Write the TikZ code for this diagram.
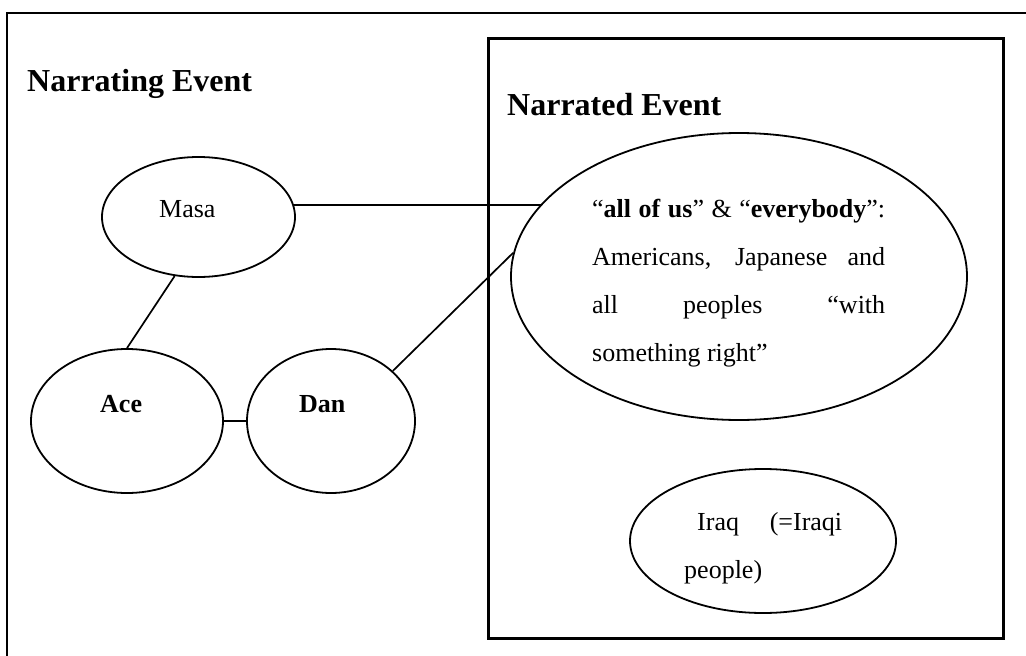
\documentclass[tikz,border=0pt]{standalone}
\usepackage{fontspec}
\setmainfont{Liberation Serif}
\usetikzlibrary{shapes.geometric}
\begin{document}
\begin{tikzpicture}[x=1pt,y=-1pt,
  bubble/.style={ellipse,draw,line width=1.8pt,inner sep=0pt},
  frame/.style={draw,line width=2.5pt},
  link/.style={line width=1.7pt},
  body/.style={font=\fontsize{26}{48}\selectfont,inner sep=0pt,anchor=base west},
  bodybold/.style={body,font=\fontsize{26}{48}\selectfont\bfseries},
  heading/.style={font=\fontsize{32}{36}\selectfont\bfseries,inner sep=0pt,anchor=base west}]
\useasboundingbox (0,0) rectangle (1026,656);
\clip (0,0) rectangle (1026,656);

% outer frame, running past the right and bottom edges
\coordinate (outerBL) at (7,680);
\coordinate (outerTL) at (7,13);
\coordinate (outerTR) at (1050,13);
\draw[frame] (outerBL) -- (outerTL) -- (outerTR);

% inner frame for the narrated event
\node[frame,inner sep=0pt,minimum width=515pt,minimum height=600pt,anchor=north west] (narrated) at (487,37) {};

% headings
\node[heading] (tNarrating) at (27,91) {Narrating Event};
\node[heading] (tNarrated) at (507,115) {Narrated Event};

% participants
\node[bubble,minimum width=193pt,minimum height=120pt] (masa) at (198.5,217) {};
\node[bubble,minimum width=192pt,minimum height=144pt] (ace) at (127,421) {};
\node[bubble,minimum width=168pt,minimum height=144pt] (dan) at (331,421) {};
\node[bubble,minimum width=456pt,minimum height=287pt] (all) at (739,276.5) {};
\node[bubble,minimum width=266pt,minimum height=144pt] (iraq) at (763,541) {};

\node[body] (tMasa) at (159,217) {Masa};
\node[bodybold] (tAce) at (100,412) {Ace};
\node[bodybold] (tDan) at (299,412) {Dan};

\node[body] (tAll) at (592,217) {\parbox[t]{293pt}{%
  \makebox[293pt][s]{“\textbf{all of us}” \& “\textbf{everybody}”:}\\
  \makebox[293pt][s]{Americans, Japanese and}\\
  \makebox[293pt][s]{all peoples “with}\\
  something right”}};

\node[body] (tIraq) at (684,530) {\parbox[t]{158pt}{%
  \hspace*{13pt}\makebox[145pt][s]{Iraq (=Iraqi}\\
  people)}};

% connectors
\draw[link] (masa.7) -- (masa.7 -| all.160);
\draw[link] (masa.248) -- (ace.north);
\draw[link] (ace.east) -- (dan.west);
\draw[link] (dan.39) -- (all.174);
\end{tikzpicture}
\end{document}
